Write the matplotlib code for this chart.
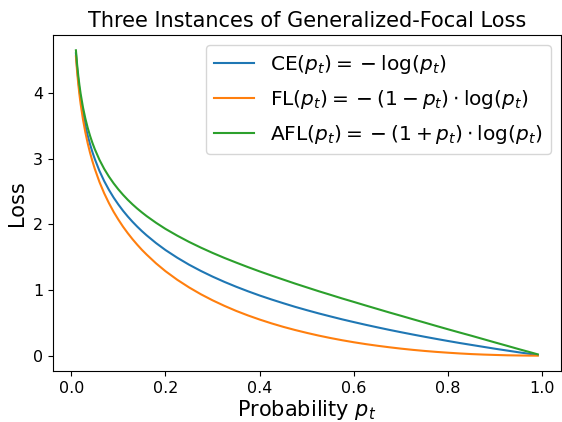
import matplotlib
matplotlib.use("Agg")
import matplotlib.pyplot as plt

p = [0.01, 0.0125, 0.015, 0.0175, 0.02, 0.025, 0.03, 0.035, 0.04, 0.045, 0.05, 0.06, 0.07,
     0.08, 0.09, 0.10, 0.11, 0.12, 0.13, 0.14, 0.15, 0.16, 0.18, 0.20, 0.225, 0.25, 0.275,
     0.30, 0.325, 0.35, 0.375, 0.40, 0.425, 0.45, 0.475, 0.50, 0.525, 0.55, 0.575, 0.60,
     0.625, 0.65, 0.675, 0.70, 0.725, 0.75, 0.775, 0.80, 0.825, 0.85, 0.875, 0.90, 0.925,
     0.95, 0.97, 0.99]
ce = [4.605, 4.382, 4.200, 4.046, 3.912, 3.689, 3.507, 3.352, 3.219, 3.101, 2.996, 2.813,
      2.659, 2.526, 2.408, 2.303, 2.207, 2.120, 2.040, 1.966, 1.897, 1.833, 1.715, 1.609,
      1.492, 1.386, 1.291, 1.204, 1.124, 1.050, 0.981, 0.916, 0.856, 0.799, 0.744, 0.693,
      0.644, 0.598, 0.553, 0.511, 0.470, 0.431, 0.393, 0.357, 0.322, 0.288, 0.255, 0.223,
      0.192, 0.163, 0.134, 0.105, 0.078, 0.051, 0.0305, 0.010]
fl = [4.559, 4.327, 4.137, 3.975, 3.834, 3.597, 3.402, 3.235, 3.090, 2.962, 2.846, 2.644,
      2.473, 2.324, 2.191, 2.073, 1.964, 1.866, 1.775, 1.691, 1.612, 1.540, 1.406, 1.287,
      1.156, 1.040, 0.936, 0.843, 0.759, 0.682, 0.613, 0.550, 0.492, 0.439, 0.391, 0.347,
      0.306, 0.269, 0.235, 0.204, 0.176, 0.151, 0.128, 0.107, 0.0885, 0.072, 0.0574, 0.045,
      0.0336, 0.024, 0.0167, 0.011, 0.0058, 0.003, 0.0009, 0.0001]
afl = [4.651, 4.437, 4.263, 4.117, 3.990, 3.781, 3.612, 3.470, 3.348, 3.241, 3.146, 2.982,
       2.845, 2.728, 2.625, 2.533, 2.450, 2.374, 2.305, 2.241, 2.182, 2.126, 2.024, 1.931,
       1.828, 1.733, 1.646, 1.565, 1.489, 1.418, 1.349, 1.283, 1.220, 1.159, 1.098, 1.040,
       0.982, 0.927, 0.871, 0.818, 0.764, 0.711, 0.658, 0.607, 0.555, 0.504, 0.452, 0.401,
       0.351, 0.302, 0.251, 0.200, 0.150, 0.099, 0.060, 0.020]
labels = [r'$\mathrm{CE}(p_t) = {}-\log(p_t)$',
          r'$\mathrm{FL}(p_t) = {}-(1-p_t)\cdot\log(p_t)$',
          r'$\mathrm{AFL}(p_t) = {}-(1+p_t)\cdot\log(p_t)$']

fig = plt.figure(figsize=(5.62, 4.22), dpi=100)
ax = fig.add_axes([0.094, 0.121, 0.904, 0.796])
ax.plot(p, ce, label=labels[0])
ax.plot(p, fl, label=labels[1])
ax.plot(p, afl, label=labels[2])
ax.set_title('Three Instances of Generalized-Focal Loss', fontsize=15)
ax.set_xlabel(r'Probability $p_t$', fontsize=15, labelpad=2)
ax.set_ylabel('Loss', fontsize=15)
ax.tick_params(labelsize=11.5)
ax.legend(fontsize=14.5, loc='upper right', labelspacing=0.6)
fig.savefig('out.png', dpi=100)
